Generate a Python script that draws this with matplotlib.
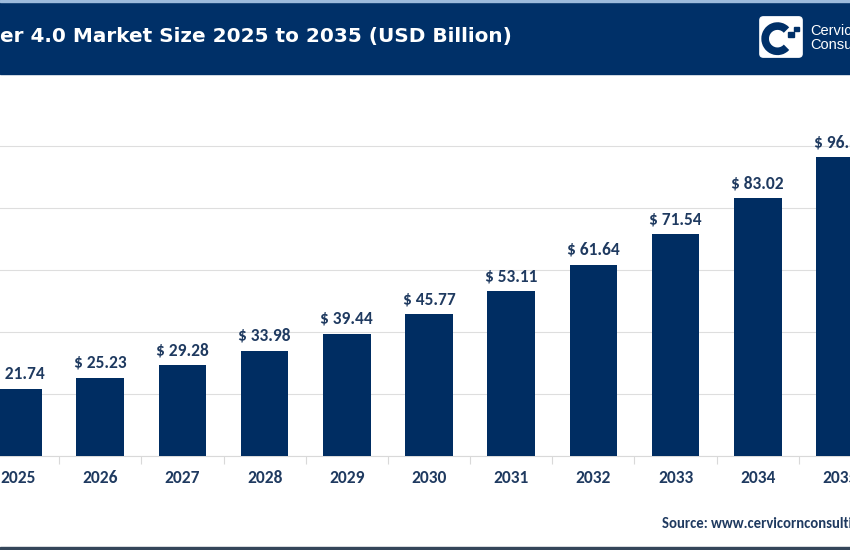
import matplotlib.pyplot as plt
from matplotlib.patches import Rectangle, FancyBboxPatch, Arc

years = ["2025", "2026", "2027", "2028", "2029", "2030",
         "2031", "2032", "2033", "2034", "2035"]
market_size = [21.74, 25.23, 29.28, 33.98, 39.44, 45.77,
               53.11, 61.64, 71.54, 83.02, 96.35]
value_labels = ["$ %.2f" % v for v in market_size]

title = "er 4.0 Market Size 2025 to 2035 (USD Billion)"
source = "Source: www.cervicornconsulting.com"

navy = "#003068"
bar_color = "#002d62"
text_navy = "#1f3a60"
W, H = 850, 550

fig = plt.figure(figsize=(8.5, 5.5), dpi=100)

# header band
fig.patches.append(Rectangle((0, 1 - 74 / H), 1, 74 / H, transform=fig.transFigure,
                             color=navy, zorder=-2))
fig.patches.append(Rectangle((0, 1 - 2 / H), 1, 2 / H, transform=fig.transFigure,
                             color="#9dbbdc", zorder=-1))
# bottom border
fig.patches.append(Rectangle((0, 0), 1, 3 / H, transform=fig.transFigure,
                             color="#34465a", zorder=-1))

fig.text(0 / W, 1 - 41.7 / H, title, color="white", fontsize=14.4, fontweight="bold",
         family=["DejaVu Sans"], ha="left", va="baseline")

# logo
lax = fig.add_axes([759 / W, 1 - 58 / H, 44 / W, 42 / H], zorder=3)
lax.set_xlim(0, 1)
lax.set_ylim(0, 1)
lax.axis("off")
lax.add_patch(FancyBboxPatch((0.02, 0.02), 0.96, 0.96,
                             boxstyle="round,pad=0,rounding_size=0.08",
                             color="white"))
lax.add_patch(Arc((0.42, 0.46), 0.56, 0.6, theta1=45, theta2=315,
                  color=navy, lw=5.5))
for (x, y, s) in [(0.66, 0.50, 0.13), (0.80, 0.64, 0.11)]:
    lax.add_patch(Rectangle((x, y), s, s, color=navy))
fig.text(810 / W, 1 - 38 / H, "Cervicorn\nConsulting", color="white", fontsize=10.5,
         family="Liberation Sans", ha="left", va="center", linespacing=0.92)

# chart
ax = fig.add_axes([-23 / W, 94 / H, 904 / W, (456 - 83.7) / H])
x = list(range(len(years)))
bars = ax.bar(x, market_size, width=0.58, color=bar_color, zorder=3)
ax.bar_label(bars, labels=value_labels, padding=5, color=text_navy,
             fontsize=12.5, fontweight="bold", family="Carlito")
ax.set_xlim(-0.5, len(years) - 0.5)
ax.set_ylim(0, 120)
ax.set_yticks([0, 20, 40, 60, 80, 100])
ax.yaxis.grid(True, color="#dedede", lw=0.8, zorder=0)
ax.tick_params(axis="y", left=False, labelleft=False)
ax.set_xticks(x)
ax.set_xticklabels(years, fontsize=12.5, fontweight="bold", color=text_navy,
                   family="Carlito")
ax.set_xticks([i + 0.5 for i in x[:-1]], minor=True)
ax.tick_params(axis="x", which="major", length=0, pad=10)
ax.tick_params(axis="x", which="minor", length=6, color="#d9d9d9", width=0.8)
for s in ["top", "right", "left"]:
    ax.spines[s].set_visible(False)
ax.spines["bottom"].set_color("#d9d9d9")
ax.set_facecolor("none")

fig.text(662 / W, 1 - 524 / H, source, color=text_navy, fontsize=10.5,
         fontweight="bold", family="Carlito", ha="left", va="center")

fig.savefig("out.png", dpi=100)
